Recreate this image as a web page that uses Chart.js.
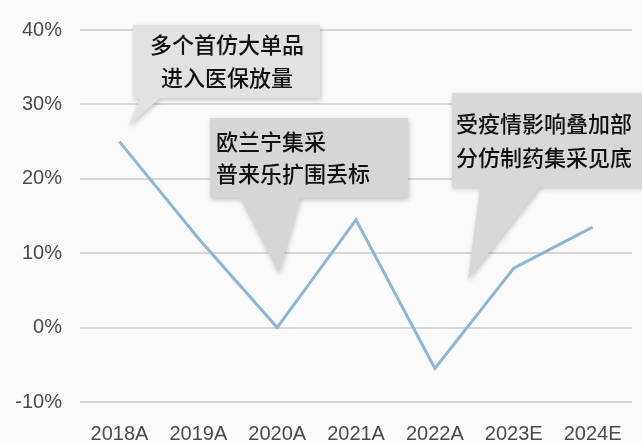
<!DOCTYPE html>
<html>
<head>
<meta charset="utf-8">
<script src="https://cdn.jsdelivr.net/npm/chart.js@4.4.1/dist/chart.umd.min.js"></script>
<style>
  html, body { margin: 0; padding: 0; background: #fafafa; }
  #wrap { width: 642px; height: 444px; }
</style>
</head>
<body>
<div id="wrap"><canvas id="growth"></canvas></div>
<script>
// yearly growth rate, actuals (A) and estimates (E)
let years = ["2018A", "2019A", "2020A", "2021A", "2022A", "2023E", "2024E"];
let growth = [25, 12, 0, 14.5, -5.5, 8, 13.5];
let yTicks = [-10, 0, 10, 20, 30, 40];

// callout texts, two lines each
let noteLines = [
  ["多个首仿大单品", "进入医保放量"],
  ["欧兰宁集采", "普来乐扩围丢标"],
  ["受疫情影响叠加部", "分仿制药集采见底"],
];

// where each callout sits and where its pointer ends
let noteLayout = [
  { x: 133, y: 25, w: 187, h: 73, fill: "#e2e2e2", align: "center", textX: 227, lineY: [45, 78], base: [140, 160], tip: [0.12, 27.2] },
  { x: 210, y: 118, w: 198, h: 80, fill: "#d6d6d6", align: "left", textX: 216, lineY: [142, 174], base: [240, 300], tip: [2.02, 7.3] },
  { x: 452, y: 93, w: 200, h: 94, fill: "#d8d8d8", align: "left", textX: 456, lineY: [124, 158], base: [480, 540], tip: [4.42, 6.5] },
];

// draws the grey speech-bubble callouts on top of the chart
let calloutPlugin = {
  id: "callouts",
  afterDatasetsDraw(chart) {
    let ctx = chart.ctx;
    let xs = chart.scales.x;
    let ys = chart.scales.y;
    noteLayout.forEach((n, i) => {
      let x0 = xs.getPixelForValue(0);
      let step = xs.getPixelForValue(1) - x0;
      let tipX = x0 + step * n.tip[0];
      let tipY = ys.getPixelForValue(n.tip[1]);
      let bottom = n.y + n.h;

      ctx.save();
      ctx.fillStyle = n.fill;
      ctx.shadowColor = "rgba(0,0,0,0.22)";
      ctx.shadowBlur = 5;
      ctx.shadowOffsetX = 1;
      ctx.shadowOffsetY = 2;
      ctx.beginPath();
      ctx.moveTo(n.x, n.y);
      ctx.lineTo(n.x + n.w, n.y);
      ctx.lineTo(n.x + n.w, bottom);
      ctx.lineTo(n.base[1], bottom);
      ctx.lineTo(tipX, tipY);
      ctx.lineTo(n.base[0], bottom);
      ctx.lineTo(n.x, bottom);
      ctx.closePath();
      ctx.fill();
      ctx.restore();

      ctx.save();
      ctx.fillStyle = "#111111";
      ctx.font = "500 22px 'Noto Sans CJK SC'";
      ctx.textAlign = n.align;
      ctx.textBaseline = "middle";
      noteLines[i].forEach((line, j) => {
        ctx.fillText(line, n.textX, n.lineY[j]);
      });
      ctx.restore();
    });
  },
};

let chart = new Chart(document.getElementById("growth"), {
  type: "line",
  data: {
    labels: years,
    datasets: [
      {
        data: growth,
        borderColor: "#8db5d5",
        borderWidth: 3,
        pointRadius: 0,
        tension: 0,
      },
    ],
  },
  plugins: [calloutPlugin],
  options: {
    responsive: true,
    maintainAspectRatio: false,
    animation: false,
    layout: { padding: { top: 25, right: 6, left: 0, bottom: 0 } },
    plugins: {
      legend: { display: false },
      tooltip: { enabled: false },
    },
    scales: {
      x: {
        offset: true,
        grid: { display: false, drawTicks: false },
        border: { display: false },
        ticks: {
          color: "#4a4a4a",
          font: { family: "'Liberation Sans', Arial", size: 20 },
          padding: 20,
          maxRotation: 0,
          autoSkip: false,
        },
        afterFit: (scale) => { scale.height = 42; },
      },
      y: {
        min: -10,
        max: 40,
        afterBuildTicks: (scale) => {
          scale.ticks = yTicks.map((v) => ({ value: v }));
        },
        grid: { color: "#d6d6d6", lineWidth: 2, drawTicks: false },
        border: { display: false },
        ticks: {
          color: "#4a4a4a",
          font: { family: "'Liberation Sans', Arial", size: 20 },
          padding: 18,
          callback: (v) => v + "%",
        },
        afterFit: (scale) => { scale.width = 80; },
      },
    },
  },
});
</script>
</body>
</html>
